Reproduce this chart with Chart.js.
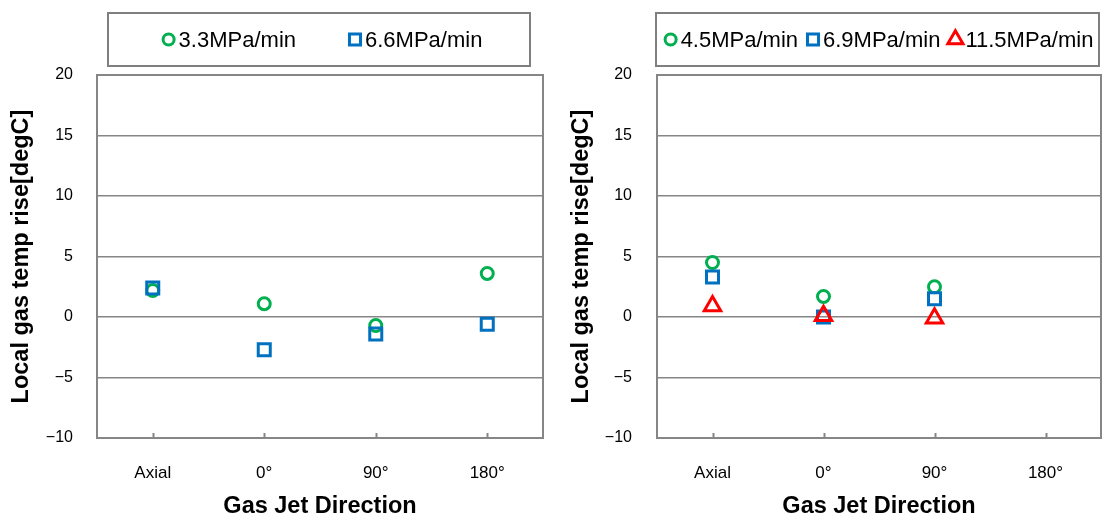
<!DOCTYPE html>
<html>
<head>
<meta charset="utf-8">
<script src="https://cdn.jsdelivr.net/npm/chart.js@4/dist/chart.umd.min.js"></script>
<style>
  html, body { margin: 0; padding: 0; background: #fff; }
  #wrap { display: flex; width: 1102px; height: 521px; }
  .cell { width: 551px; height: 521px; }
  canvas { display: block; }
</style>
</head>
<body>
<div id="wrap">
  <div class="cell"><canvas id="leftChart" width="551" height="521"></canvas></div>
  <div class="cell"><canvas id="rightChart" width="551" height="521"></canvas></div>
</div>
<script>
// Shared axes
const categories = ['Axial', '0°', '90°', '180°'];
const yTicks = [-10, -5, 0, 5, 10, 15, 20];

// Left panel: pressurisation rates and measured temperature rise [degC]
const leftSeriesNames = ['3.3MPa/min', '6.6MPa/min'];
const rise33 = [2.2, 1.1, -0.7, 3.6];
const rise66 = [2.4, -2.7, -1.4, -0.6];

// Right panel (no 180° measurement)
const rightSeriesNames = ['4.5MPa/min', '6.9MPa/min', '11.5MPa/min'];
const rise45 = [4.5, 1.7, 2.5, null];
const rise69 = [3.3, 0.0, 1.5, null];
const rise115 = [0.9, 0.1, -0.1, null];

const FONT = '"Liberation Sans", Arial, Helvetica, sans-serif';
const GRID = '#868686';
const GREEN = '#00B050', BLUE = '#0070C0', RED = '#FF0000';

const markerStyles = [
  { pointStyle: 'circle',   color: GREEN, radius: 6 },
  { pointStyle: 'rect',     color: BLUE,  radius: 8.5 },
  { pointStyle: 'triangle', color: RED,   radius: 9.5 }
];

function buildDatasets(names, series) {
  return series.map((data, i) => {
    const m = markerStyles[i];
    return {
      label: names[i],
      data: data,
      showLine: false,
      pointStyle: m.pointStyle,
      pointRadius: m.radius,
      pointHoverRadius: m.radius,
      pointBorderWidth: 3,
      pointHoverBorderWidth: 3,
      pointBorderColor: m.color,
      pointBackgroundColor: 'rgba(0,0,0,0)',
      borderColor: m.color,
      backgroundColor: 'rgba(0,0,0,0)',
      order: series.length - i
    };
  });
}

// Plot frame and small inward category ticks on the x axis
const framePlugin = {
  id: 'frame',
  beforeDatasetsDraw(chart) {
    const { ctx, chartArea: a } = chart;
    ctx.save();
    ctx.strokeStyle = GRID;
    ctx.lineWidth = 2;
    ctx.strokeRect(a.left, a.top, a.right - a.left, a.bottom - a.top);
    const xs = chart.scales.x;
    ctx.beginPath();
    xs.ticks.forEach((t, i) => {
      const px = Math.round(xs.getPixelForTick(i)) + 0.5;
      ctx.moveTo(px, a.bottom);
      ctx.lineTo(px, a.bottom - 5);
    });
    ctx.stroke();
    ctx.restore();
  }
};

function drawMarker(ctx, style, r, x, y) {
  if (window.Chart && Chart.helpers && Chart.helpers.drawPoint) {
    Chart.helpers.drawPoint(ctx, { pointStyle: style, radius: r, borderWidth: ctx.lineWidth, rotation: 0 }, x, y);
    return;
  }
  ctx.beginPath();
  if (style === 'circle') {
    ctx.arc(x, y, r, 0, Math.PI * 2);
  } else if (style === 'rect') {
    const s = r * Math.SQRT1_2;
    ctx.rect(x - s, y - s, 2 * s, 2 * s);
  } else {
    ctx.moveTo(x, y - r);
    ctx.lineTo(x + r * Math.sin(Math.PI * 2 / 3), y + r / 2);
    ctx.lineTo(x - r * Math.sin(Math.PI * 2 / 3), y + r / 2);
    ctx.closePath();
  }
  ctx.stroke();
}

// Boxed legend above the plot area
const boxLegendPlugin = {
  id: 'boxLegend',
  afterDraw(chart, args, opts) {
    const { ctx, chartArea: a } = chart;
    const left = a.left + opts.insetLeft, right = a.right - opts.insetRight;
    const top = opts.top, bottom = opts.bottom;
    ctx.save();
    ctx.strokeStyle = '#7f7f7f';
    ctx.lineWidth = 2;
    ctx.strokeRect(left, top, right - left, bottom - top);

    ctx.font = opts.fontSize + 'px ' + FONT;
    const markW = 14, textGap = 3;
    const items = chart.data.datasets.map(ds => ({
      ds, w: markW + textGap + ctx.measureText(ds.label).width
    }));
    const total = items.reduce((s, it) => s + it.w, 0) + opts.itemGap * (items.length - 1);
    let x = (left + right) / 2 - total / 2 + opts.shift;
    const y = (top + bottom) / 2;
    items.forEach(it => {
      const ds = it.ds;
      ctx.strokeStyle = ds.pointBorderColor;
      ctx.fillStyle = 'rgba(0,0,0,0)';
      ctx.lineWidth = 3;
      drawMarker(ctx, ds.pointStyle, ds.pointRadius * 0.92, x + markW / 2, y);
      ctx.fillStyle = '#000';
      ctx.textAlign = 'left';
      ctx.textBaseline = 'middle';
      ctx.fillText(ds.label, x + markW + textGap, y + 1);
      x += it.w + opts.itemGap;
    });
    ctx.restore();
  }
};

function makeChart(id, datasets, cfg) {
  return new Chart(document.getElementById(id), {
    type: 'line',
    data: { labels: categories, datasets },
    options: {
      responsive: false,
      animation: false,
      devicePixelRatio: 1,
      events: [],
      layout: { autoPadding: false, padding: { top: 75, right: cfg.padRight, bottom: 0, left: 0 } },
      plugins: {
        legend: { display: false },
        tooltip: { enabled: false },
        boxLegend: cfg.legend
      },
      scales: {
        x: {
          type: 'category',
          offset: true,
          grid: {
            display: true, drawOnChartArea: false, drawTicks: true,
            tickLength: 25, tickColor: 'rgba(0,0,0,0)'
          },
          border: { display: false },
          ticks: { color: '#000', font: { family: FONT, size: 17 }, padding: 0, maxRotation: 0 },
          title: {
            display: true, text: 'Gas Jet Direction', color: '#000',
            font: { family: FONT, size: 23.5, weight: 'bold' }, padding: { top: 0, bottom: 0 }
          },
          afterFit(s) { s.height = 83; s.paddingLeft = 0; s.paddingRight = 0; }
        },
        y: {
          min: -10, max: 20,
          afterBuildTicks(s) { s.ticks = yTicks.map(v => ({ value: v })); },
          grid: { color: GRID, lineWidth: 1.5, drawTicks: false },
          border: { display: false },
          ticks: {
            color: '#000', font: { family: FONT, size: 16 }, padding: cfg.yTickPad,
            callback: v => String(v).replace('-', '\u2212')
          },
          title: {
            display: true, text: 'Local gas temp rise[degC]', color: '#000',
            font: { family: FONT, size: 23.5, weight: 'bold' }, padding: { top: cfg.yTitlePad, bottom: 0 }
          },
          afterFit(s) { s.width = cfg.yWidth; }
        }
      }
    },
    plugins: [framePlugin, boxLegendPlugin]
  });
}

makeChart('leftChart', buildDatasets(leftSeriesNames, [rise33, rise66]), {
  padRight: 8, yWidth: 97, yTickPad: 24, yTitlePad: 7.6,
  legend: { insetLeft: 11, insetRight: 13, top: 13, bottom: 66, itemGap: 52, fontSize: 22, shift: 3 }
});

makeChart('rightChart', buildDatasets(rightSeriesNames, [rise45, rise69, rise115]), {
  padRight: 1, yWidth: 106, yTickPad: 25, yTitlePad: 16.6,
  legend: { insetLeft: -1, insetRight: 2, top: 13, bottom: 66, itemGap: 8, fontSize: 22, shift: 1 }
});
</script>
</body>
</html>
